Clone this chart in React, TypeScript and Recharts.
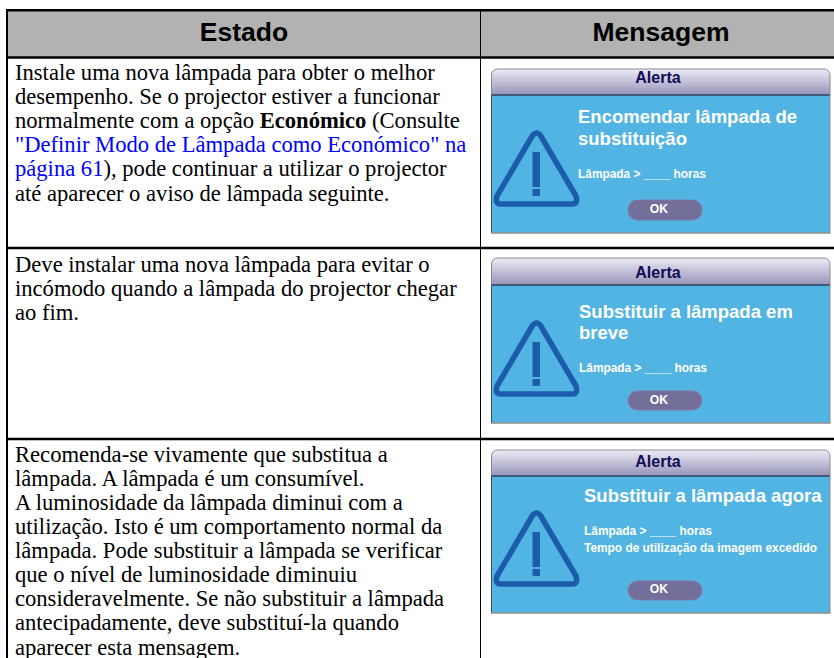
import React from 'react';
import { ComposedChart, XAxis, YAxis, ReferenceArea, ReferenceLine, Rectangle } from 'recharts';

const WIDTH = 834;
const HEIGHT = 658;

// table text, ** marks bold and [[ ]] marks a page link
const headers = ['Estado', 'Mensagem'];
const estadoRow1 = [
  'Instale uma nova lâmpada para obter o melhor',
  'desempenho. Se o projector estiver a funcionar',
  'normalmente com a opção **Económico** (Consulte',
  '[["Definir Modo de Lâmpada como Económico" na]]',
  '[[página 61]]), pode continuar a utilizar o projector',
  'até aparecer o aviso de lâmpada seguinte.',
];
const estadoRow2 = [
  'Deve instalar uma nova lâmpada para evitar o',
  'incómodo quando a lâmpada do projector chegar',
  'ao fim.',
];
const estadoRow3 = [
  'Recomenda-se vivamente que substitua a',
  'lâmpada. A lâmpada é um consumível.',
  'A luminosidade da lâmpada diminui com a',
  'utilização. Isto é um comportamento normal da',
  'lâmpada. Pode substituir a lâmpada se verificar',
  'que o nível de luminosidade diminuiu',
  'consideravelmente. Se não substituir a lâmpada',
  'antecipadamente, deve substituí-la quando',
  'aparecer esta mensagem.',
];
const estadoRows = [estadoRow1, estadoRow2, estadoRow3];

const alertTitle = 'Alerta';
const okLabel = 'OK';
const headlines = [
  ['Encomendar lâmpada de', 'substituição'],
  ['Substituir a lâmpada em', 'breve'],
  ['Substituir a lâmpada agora'],
];
const details = [
  ['Lâmpada > ____ horas'],
  ['Lâmpada > ____ horas'],
  ['Lâmpada > ____ horas', 'Tempo de utilização da imagem excedido'],
];

// layout of the table and of the three alert panels
const rowTops = [248, 439];
const rowBaselines = [80, 271.5, 461.7];
const panelLayouts = [
  { top: 69, bar: 95, bottom: 233, textX: 578, head: [123, 145], detail: [178], ok: 213, btn: [200, 220], alert: 83, tri: 130 },
  { top: 258, bar: 285, bottom: 423, textX: 579, head: [318, 339], detail: [372], ok: 404, btn: [391, 410], alert: 278, tri: 320 },
  { top: 450, bar: 476, bottom: 613, textX: 584, head: [502], detail: [535, 552], ok: 593, btn: [581, 600], alert: 467, tri: 510 },
];

const SERIF = '"Liberation Serif", serif';
const SANS = '"Liberation Sans", sans-serif';

const RichLine = ({ line, y }: { line: string; y: number }) => {
  const parts = line.split(/(\*\*.*?\*\*|\[\[.*?\]\])/).filter(Boolean);
  return (
    <text x={15} y={y} fontFamily={SERIF} fontSize={22.6} fill="#000">
      {parts.map((p, i) => {
        if (p.startsWith('**')) return <tspan key={i} fontWeight="bold">{p.slice(2, -2)}</tspan>;
        if (p.startsWith('[[')) return <tspan key={i} fill="#0000ff">{p.slice(2, -2)}</tspan>;
        return <tspan key={i}>{p}</tspan>;
      })}
    </text>
  );
};

const WarningIcon = ({ top }: { top: number }) => (
  <g>
    <path
      d={`M532.5 ${top + 5.5} Q536.5 ${top + 0.5} 540.5 ${top + 5.5} L576 ${top + 66} Q578.5 ${top + 74} 572 ${top + 74} L501 ${top + 74} Q494.5 ${top + 74} 497 ${top + 66} Z`}
      fill="none"
      stroke="#1c5dab"
      strokeWidth={5.5}
      strokeLinejoin="round"
    />
    <rect x={532.5} y={top + 22} width={7.5} height={35} fill="#1c5dab" />
    <rect x={532.5} y={top + 59} width={7.5} height={7} fill="#1c5dab" />
  </g>
);

const AlertPanel = ({ index }: { index: number }) => {
  const l = panelLayouts[index];
  return (
    <g>
      <Rectangle x={491.5} y={l.top} width={338.5} height={l.bar - l.top} radius={[6, 6, 0, 0]} fill="url(#titleBar)" stroke="#8a8a96" strokeWidth={1} />
      <rect x={491.5} y={l.bar} width={338.5} height={l.bottom - l.bar} fill="#51b4e2" />
      <line x1={491.5} x2={830} y1={l.bar} y2={l.bar} stroke="#101030" strokeWidth={1} />
      <line x1={491.5} x2={491.5} y1={l.bar} y2={l.bottom} stroke="#33506a" strokeWidth={1} />
      <line x1={830} x2={830} y1={l.bar} y2={l.bottom} stroke="#8f8f8f" strokeWidth={1} />
      <line x1={491} x2={830.5} y1={l.bottom} y2={l.bottom} stroke="#8f8f8f" strokeWidth={1.5} />
      <text x={658} y={l.alert} textAnchor="middle" fontFamily={SANS} fontWeight="bold" fontSize={16} fill="#100c55">{alertTitle}</text>
      <WarningIcon top={l.tri} />
      {headlines[index].map((t, i) => (
        <text key={t} x={l.textX} y={l.head[i]} fontFamily={SANS} fontWeight="bold" fontSize={18.5} fill="#fff">{t}</text>
      ))}
      {details[index].map((t, i) => (
        <text key={t} x={l.textX} y={l.detail[i]} fontFamily={SANS} fontWeight="bold" fontSize={11.9} fill="#fff">{t}</text>
      ))}
      <Rectangle x={628} y={l.btn[0]} width={74} height={l.btn[1] - l.btn[0]} radius={9.5} fill="#736f9b" stroke="#8f6f9b" strokeWidth={0.7} />
      <text x={659} y={l.ok} textAnchor="middle" fontFamily={SANS} fontWeight="bold" fontSize={12.2} fill="#fff">{okLabel}</text>
    </g>
  );
};

const headerLabel = (value: string) => ({
  value,
  position: 'center' as const,
  fontFamily: SANS,
  fontWeight: 'bold',
  fontSize: 26.5,
  fill: '#000',
});

export default function App() {
  return (
    <div style={{ position: 'absolute', left: 0, top: 0, width: WIDTH, height: HEIGHT, background: '#fff' }}>
      <ComposedChart width={WIDTH} height={HEIGHT} data={[]} margin={{ top: 0, right: 0, bottom: 0, left: 0 }}>
        <defs>
          <linearGradient id="titleBar" x1="0" y1="0" x2="0" y2="1">
            <stop offset="0%" stopColor="#ecebf6" />
            <stop offset="100%" stopColor="#9694b8" />
          </linearGradient>
        </defs>
        <XAxis type="number" dataKey="x" domain={[0, WIDTH]} hide allowDataOverflow />
        <YAxis type="number" dataKey="y" domain={[0, HEIGHT]} reversed hide allowDataOverflow />
        <ReferenceArea x1={8} x2={WIDTH} y1={10} y2={57} fill="#b2b2b2" fillOpacity={1} stroke="none" />
        <ReferenceArea x1={8} x2={480} y1={10} y2={53} fillOpacity={0} stroke="none" label={headerLabel(headers[0])} />
        <ReferenceArea x1={488} x2={WIDTH} y1={10} y2={53} fillOpacity={0} stroke="none" label={headerLabel(headers[1])} />
        <ReferenceLine segment={[{ x: 6, y: 10.3 }, { x: WIDTH, y: 10.3 }]} stroke="#000" strokeWidth={2.5} />
        <ReferenceLine segment={[{ x: 6, y: 57.5 }, { x: WIDTH, y: 57.5 }]} stroke="#000" strokeWidth={2.5} />
        {rowTops.map(y => (
          <ReferenceLine key={y} segment={[{ x: 6, y }, { x: WIDTH, y }]} stroke="#000" strokeWidth={2.5} />
        ))}
        <ReferenceLine segment={[{ x: 7, y: 9 }, { x: 7, y: HEIGHT }]} stroke="#000" strokeWidth={2} />
        <ReferenceLine segment={[{ x: 480.5, y: 9 }, { x: 480.5, y: HEIGHT }]} stroke="#000" strokeWidth={1} />
        {estadoRows.map((lines, r) =>
          lines.map((line, i) => <RichLine key={`${r}-${i}`} line={line} y={rowBaselines[r] + i * 24.1} />)
        )}
        {panelLayouts.map((_, i) => <AlertPanel key={i} index={i} />)}
      </ComposedChart>
    </div>
  );
}
